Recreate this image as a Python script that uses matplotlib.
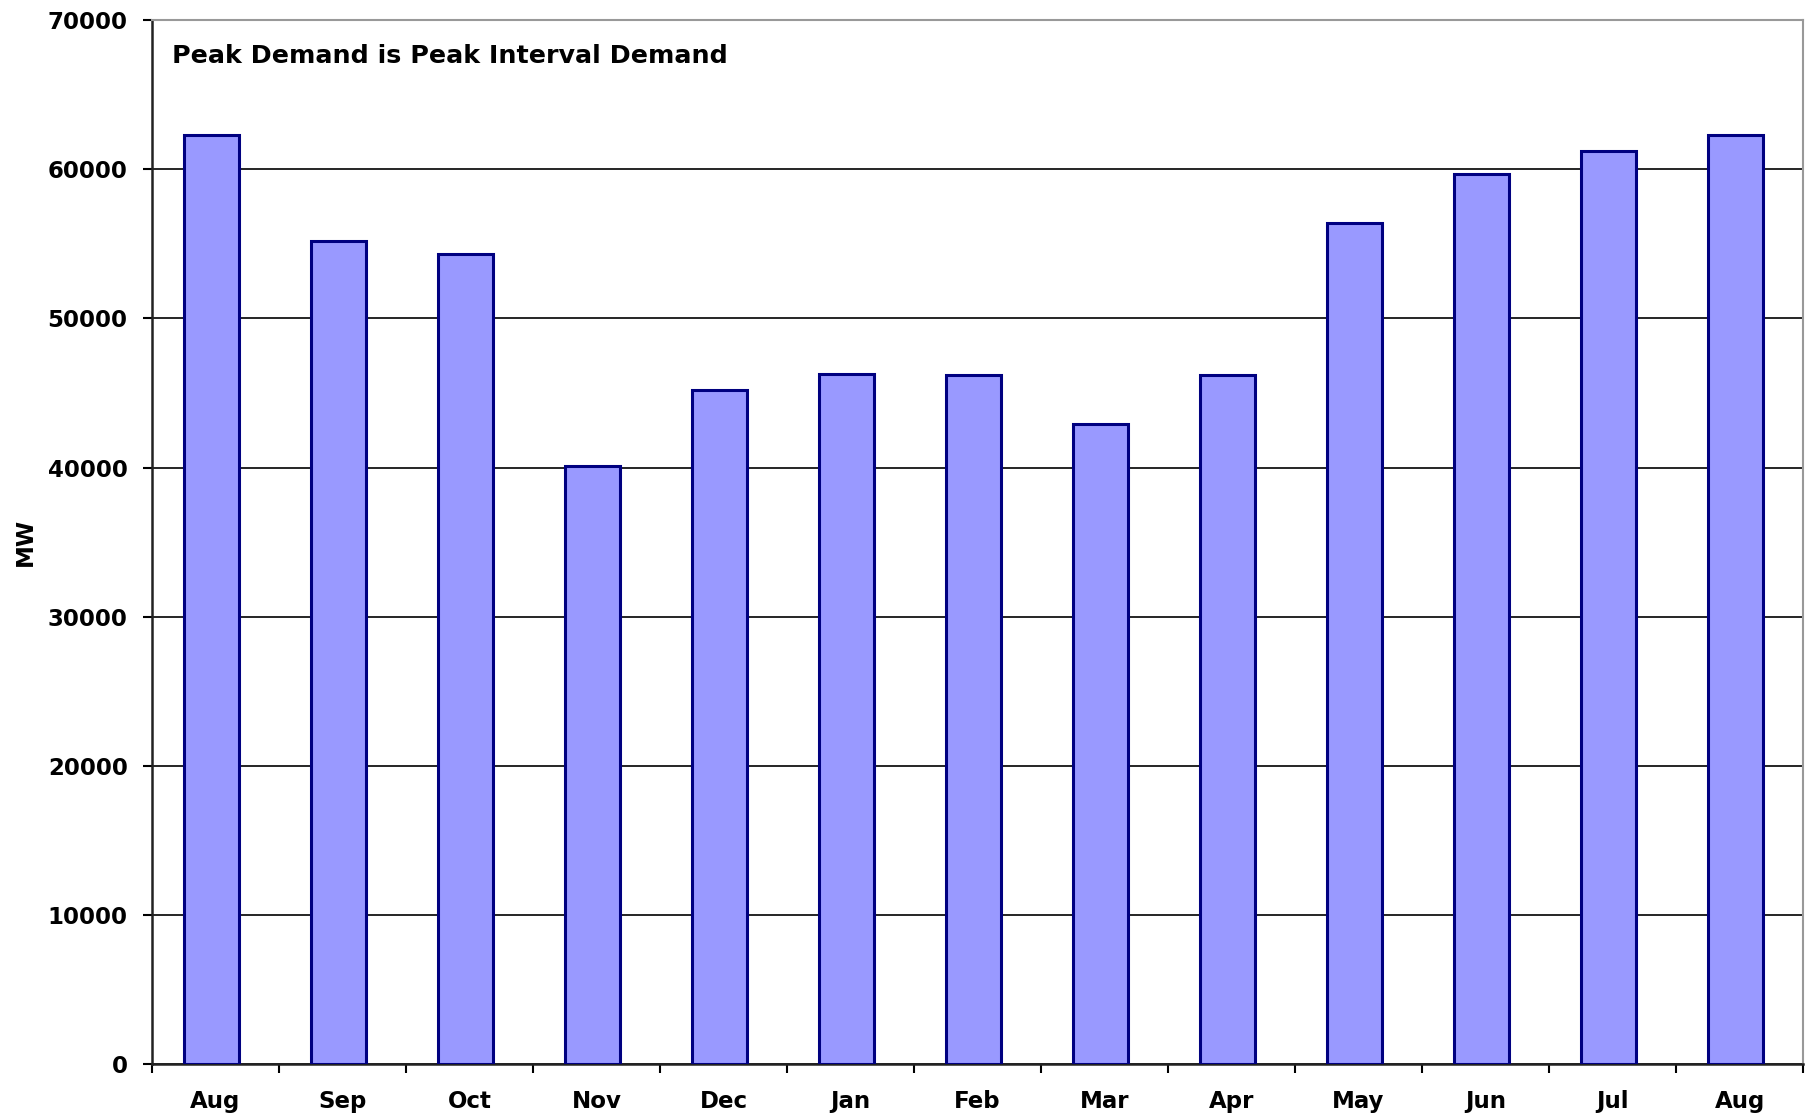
import matplotlib
matplotlib.use('Agg')
import matplotlib.pyplot as plt
import numpy as np

months = ['Aug', 'Sep', 'Oct', 'Nov', 'Dec', 'Jan', 'Feb', 'Mar',
          'Apr', 'May', 'Jun', 'Jul', 'Aug']
peak_mw = [62300, 55200, 54300, 40100, 45200, 46300, 46200, 42900,
           46200, 56400, 59700, 61200, 62300]
y_ticks = [0, 10000, 20000, 30000, 40000, 50000, 60000, 70000]

plt.rcParams['font.family'] = ['DejaVu Sans']
plt.rcParams['font.weight'] = 'bold'

fig = plt.figure(figsize=(18.09, 11.17), dpi=100)
ax = fig.add_axes([0.084, 0.0474, 0.9127, 0.9346])

x = np.arange(len(months))
# bars sit a touch left of the category centre, like the original Excel chart
ax.bar(x - 0.03, peak_mw, width=0.43, color='#9999ff', edgecolor='#000080',
       linewidth=2.2, zorder=3)

ax.set_xlim(-0.5, len(months) - 0.5)
ax.set_ylim(0, 70000)
ax.set_yticks(y_ticks)
ax.set_yticklabels([str(v) for v in y_ticks], fontsize=16.5, fontweight='bold')
ax.set_xticks(x)
ax.set_xticklabels(months, fontsize=16.5, fontweight='bold')
ax.set_xticks(np.arange(-0.5, len(months)), minor=True)
ax.tick_params(axis='x', which='major', length=0, pad=19)
ax.tick_params(axis='x', which='minor', length=6.5, width=1.5, direction='out')
ax.tick_params(axis='y', length=6.5, width=1.5, pad=11, direction='out')

ax.yaxis.grid(True, color='black', linewidth=1.2, zorder=1)
ax.set_axisbelow(True)

for s in ['left', 'bottom']:
    ax.spines[s].set_color('#222222')
    ax.spines[s].set_linewidth(1.8)
for s in ['top', 'right']:
    ax.spines[s].set_color('#999999')
    ax.spines[s].set_linewidth(1.5)

ax.set_ylabel('MW', fontsize=16.5, fontweight='bold', labelpad=7.5)
ax.text(0.012, 0.966, 'Peak Demand is Peak Interval Demand',
        transform=ax.transAxes, fontsize=18.3, fontweight='bold', va='center')

fig.savefig('out.png', dpi=100)
